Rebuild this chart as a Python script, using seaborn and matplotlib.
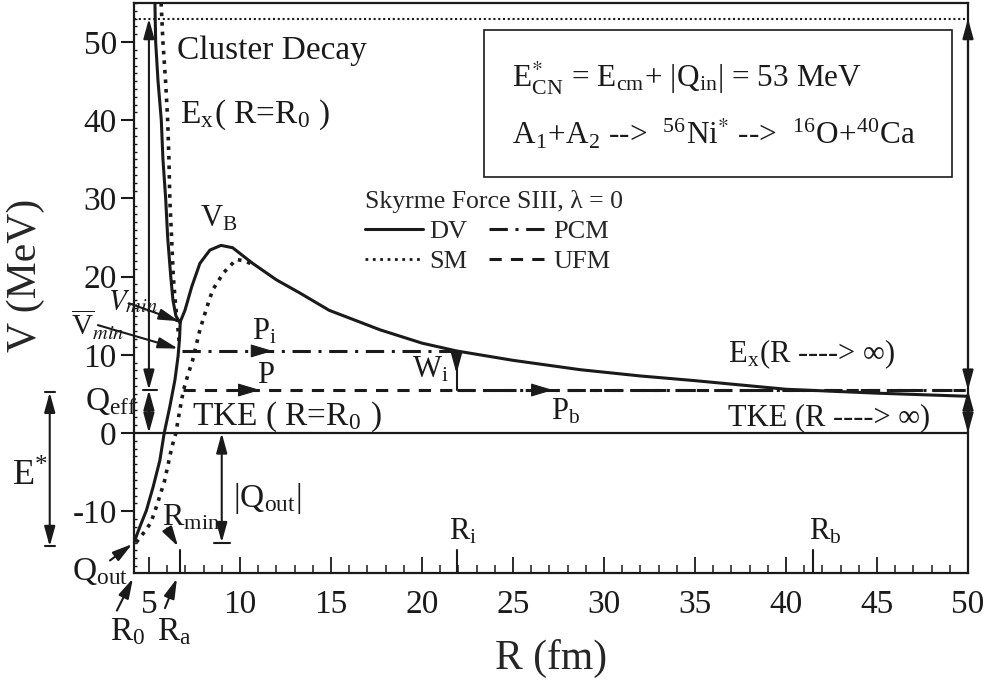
"""Cluster decay potential 56Ni* -> 16O + 40Ca (Skyrme SIII, lambda = 0)."""
import matplotlib
matplotlib.use("Agg")
import matplotlib.pyplot as plt
import seaborn as sns
from matplotlib.lines import Line2D
from matplotlib.patches import Rectangle
from matplotlib.ticker import MultipleLocator

sns.set_theme(style="white")
plt.rcParams["font.family"] = ["Liberation Serif", "DejaVu Serif"]
plt.rcParams["mathtext.fontset"] = "stix"
plt.rcParams["axes.unicode_minus"] = False

# ---- data (R in fm, V in MeV) ----
dv_r = [5.33, 5.37, 5.5, 5.68, 5.77, 5.92, 6.03, 6.2, 6.32, 6.48, 6.7, 6.98, 7.35, 7.8,
        8.35, 8.96, 9.6, 10.7, 12.0, 13.3, 14.9, 17.7, 20.0, 21.9, 25.0, 28.7, 32.0,
        35.0, 40.0, 45.0, 50.0]
dv_v = [55, 50, 45, 40, 35, 30, 25, 20, 17, 15, 14.1, 15.7, 18.7, 21.7,
        23.4, 24.0, 23.7, 21.7, 19.6, 17.9, 15.7, 13.2, 11.5, 10.5, 9.3, 8.1, 7.3,
        6.7, 5.6, 5.1, 4.7]
dv_low_r = [4.18, 4.5, 4.86, 5.23, 5.6, 5.84, 6.15, 6.43, 6.6, 6.68, 6.72]
dv_low_v = [-14.0, -12.0, -9.9, -6.9, -3.5, 0.0, 3.4, 6.8, 9.8, 12.0, 14.1]
sm_up_r = [5.67, 5.77, 5.92, 6.03, 6.1, 6.15, 6.25, 6.34, 6.47, 6.6, 6.68]
sm_up_v = [55, 50, 44.8, 40, 35, 29.8, 24.7, 20, 16.2, 13.2, 11.0]
sm_low_r = [4.3, 4.7, 5.1, 5.4, 5.85, 6.26, 6.48, 6.7, 6.9, 7.15, 7.4, 7.8, 8.2, 8.5,
            9.1, 9.8, 10.3, 10.8]
sm_low_v = [-14.0, -12.8, -11.5, -9.5, -6.2, -1.8, 0.0, 3.0, 5.5, 7.5, 9.3, 13.2, 16.2,
            18.3, 20.5, 22.2, 22.0, 21.4]

E_CN = 53.0      # compound-nucleus excitation
Q_EFF = 5.5      # UFM / PCM exit level
V_PCM = 10.5     # PCM level at R_a
Q_OUT = -14.0
R0, RA, RI, RB, RMAX = 4.18, 6.7, 21.9, 41.5, 50.0
r_marks = [RA, RI, RB]
pcm_in_r, pcm_in_v = [6.8, RI], [V_PCM, V_PCM]
pcm_out_r, pcm_out_v = [RI, RMAX], [Q_EFF, Q_EFF]
ufm_r, ufm_v = [6.87, RMAX], [Q_EFF, Q_EFF]

LW = 2.2
PCM_DASH = (0, (6, 2.5, 1, 2.5))
UFM_DASH = (0, (4, 3))

fig = plt.figure(figsize=(9.91, 6.94), dpi=100)
ax = fig.add_axes([134 / 991, 1 - 573 / 694, 834 / 991, 570 / 694])

# ---- curves ----
kw = dict(color="k", sort=False, estimator=None, legend=False, ax=ax)
sns.lineplot(x=dv_r, y=dv_v, lw=LW, **kw)
sns.lineplot(x=dv_low_r, y=dv_low_v, lw=LW, **kw)
sns.lineplot(x=sm_up_r, y=sm_up_v, lw=2.6, linestyle=":", **kw)
sns.lineplot(x=sm_low_r, y=sm_low_v, lw=2.6, linestyle=":", **kw)
sns.lineplot(x=pcm_in_r, y=pcm_in_v, lw=LW, linestyle=PCM_DASH, **kw)
sns.lineplot(x=pcm_out_r, y=pcm_out_v, lw=LW, linestyle=PCM_DASH, **kw)
sns.lineplot(x=ufm_r, y=ufm_v, lw=LW, linestyle=UFM_DASH, **kw)
ax.axhline(0, color="k", lw=1.6)
ax.axhline(E_CN, color="k", lw=1.5, linestyle=(0, (1, 1.3)))
for r in r_marks:
    ax.plot([r, r], [-17.9, -14.9], color="k", lw=1.5)

ax.set_xlim(R0, RMAX)
ax.set_ylim(-17.9, 55)

# ---- axes styling ----
for s in ax.spines.values():
    s.set_linewidth(1.6)
    s.set_color("k")
ax.xaxis.set_major_locator(MultipleLocator(5))
ax.xaxis.set_minor_locator(MultipleLocator(1))
ax.yaxis.set_major_locator(MultipleLocator(10))
ax.yaxis.set_minor_locator(MultipleLocator(1))
ax.tick_params(bottom=True, left=True, top=False, right=False, which="both")
ax.tick_params(axis="x", which="major", direction="in", length=11.5, width=1.3,
               pad=12, labelsize=24, colors="k")
ax.tick_params(axis="x", which="minor", direction="in", length=5.8, width=1.1, colors="k")
ax.tick_params(axis="y", which="major", direction="out", length=9.4, width=1.5,
               pad=3, labelsize=24, colors="k")
ax.tick_params(axis="y", which="minor", direction="in", length=2.2, width=1.0, colors="k")
ax.set_xlabel("R (fm)", fontsize=30)
ax.set_ylabel("V (MeV)", fontsize=30)
ax.xaxis.set_label_coords(0.5, -0.115)
ax.yaxis.set_label_coords(-0.107, 0.523)


# ---- arrows ----
def darrow(x, y0, y1):
    ax.annotate("", xy=(x, y1), xytext=(x, y0), annotation_clip=False,
                arrowprops=dict(arrowstyle="<|-|>,head_length=0.8,head_width=0.22",
                                color="k", lw=1.5, shrinkA=0, shrinkB=0,
                                mutation_scale=15))


def parrow(tail, head):
    ax.annotate("", xy=head, xytext=tail, annotation_clip=False,
                arrowprops=dict(arrowstyle="-|>,head_length=0.8,head_width=0.22",
                                color="k", lw=1.5, shrinkA=0, shrinkB=0,
                                mutation_scale=15))


def bar(x0, x1, y):
    ax.plot([x0, x1], [y, y], color="k", lw=1.5, clip_on=False)


darrow(5.0, Q_EFF, E_CN)
darrow(5.0, 0, Q_EFF)
bar(4.67, 5.44, Q_EFF)
darrow(RMAX, Q_EFF, E_CN)
darrow(RMAX, 0, Q_EFF)
darrow(9.0, Q_OUT, 0)
bar(8.57, 9.45, Q_OUT)
darrow(-0.45, -14.5, 5.2)
bar(-0.73, -0.17, 5.2)
bar(-0.73, -0.17, -14.5)
ax.plot([RI, RI], [Q_EFF, V_PCM], color="k", lw=1.5)
parrow((RI, V_PCM), (RI, 7.6))

parrow((2.86, -16.3), (4.08, -14.2))      # Q_out
parrow((3.24, -22.7), (4.12, -18.6))      # R_0
parrow((5.88, -22.4), (6.54, -18.6))      # R_a
parrow((5.99, -12.2), (6.6, -14.5))       # R_min
parrow((3.9, 16.6), (6.65, 14.3))         # V_min
parrow((2.2, 13.8), (6.6, 10.8))          # V_min bar

for tip, y in [(11.8, V_PCM), (11.1, Q_EFF), (27.2, Q_EFF)]:
    ax.annotate("", xy=(tip, y), xytext=(tip - 0.9, y),
                arrowprops=dict(arrowstyle="-|>,head_length=1.0,head_width=0.3",
                                color="k", lw=0.8, shrinkA=0, shrinkB=0,
                                mutation_scale=14))

# ---- labels ----
def label(x, y, s, size=24, **k):
    ax.text(x, y, s, fontsize=size, color="k", va="baseline", ha="left",
            clip_on=False, **k)


label(6.54, 47.8, "Cluster Decay", 24)
label(6.7, 39.7, r"E$_\mathregular{x}$( R=R$_\mathregular{0}$ )", 24)
label(7.8, 26.4, r"V$_\mathregular{B}$", 22)
label(2.75, 15.9, r"$V_{min}$", 21)
label(0.7, 12.4, r"$\overline{\mathregular{V}}_{min}$", 21)
label(10.66, 11.9, r"P$_\mathregular{i}$", 22)
label(10.93, 6.4, "P", 22)
label(27.1, 1.66, r"P$_\mathregular{b}$", 22)
label(19.45, 7.04, r"W$_\mathregular{i}$", 22)
label(7.36, 1.0, r"TKE ( R=R$_\mathregular{0}$ )", 24)
label(36.8, 9.1, r"E$_\mathregular{x}$(R ----> ∞)", 22)
label(36.8, 1.0, "TKE (R ----> ∞)", 22)
label(1.48, 2.9, r"Q$_\mathregular{eff}$", 24)
label(-2.53, -6.6, r"E$^\mathregular{*}$", 26)
label(9.6, -9.4, r"|Q$_\mathregular{out}$|", 24)
label(5.71, -11.8, r"R$_\mathregular{min}$", 23)
label(21.5, -13.7, r"R$_\mathregular{i}$", 22)
label(41.26, -13.7, r"R$_\mathregular{b}$", 22)
label(0.77, -18.8, r"Q$_\mathregular{out}$", 24)
label(2.86, -26.5, r"R$_\mathregular{0}$", 24)
label(5.44, -26.5, r"R$_\mathregular{a}$", 24)

# ---- reaction box ----
ax.add_patch(Rectangle((0.4197, 0.695), 0.5613, 0.2576, transform=ax.transAxes,
                       fill=False, edgecolor="k", lw=1.2))
label(24.95, 44.3, r"E$^{*}_{\mathregular{CN}}$ = E$_\mathregular{cm}$+ |Q$_\mathregular{in}$| = 53 MeV", 22.5)
label(24.95, 36.9, r"A$_\mathregular{1}$+A$_\mathregular{2}$ -->  $^{\mathregular{56}}$Ni$^{*}$ -->  "
      r"$^{\mathregular{16}}$O+$^{\mathregular{40}}$Ca", 22.5)

# ---- legend ----
handles = [Line2D([], [], color="k", lw=LW),
           Line2D([], [], color="k", lw=2.0, linestyle=":"),
           Line2D([], [], color="k", lw=LW, linestyle=PCM_DASH),
           Line2D([], [], color="k", lw=LW, linestyle=UFM_DASH)]
ax.legend(handles, ["DV", "SM", "PCM", "UFM"], ncol=2, title="Skyrme Force SIII, λ = 0",
          loc="upper left", bbox_to_anchor=(0.277, 0.672), frameon=False, fontsize=19,
          title_fontsize=18.5, handlelength=2.2, handletextpad=0.25, columnspacing=0.8,
          labelspacing=0.25, alignment="left", borderpad=0, borderaxespad=0)

fig.savefig("out.png", dpi=100)
